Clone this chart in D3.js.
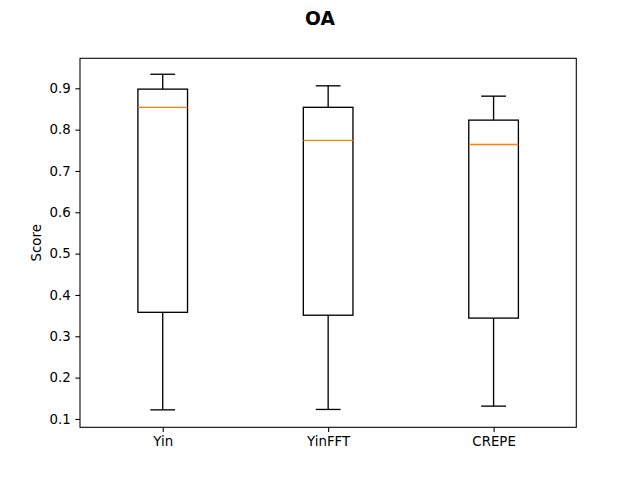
<!DOCTYPE html>
<html lang="en">
<head>
    <meta charset="UTF-8">
    <title>OA</title>
    <script src="https://d3js.org/d3.v7.min.js"></script>
    <style>
        body {
            margin: 0;
            background: white;
        }
        svg {
            display: block;
            font-family: 'DejaVu Sans', sans-serif;
        }
    </style>
</head>
<body>
    <svg width="640" height="480"></svg>
    <script>
        // box stats
        const categories = ['Yin', 'YinFFT', 'CREPE'];
        const whiskerLow = [0.122, 0.123, 0.131];
        const q1 = [0.358, 0.351, 0.344];
        const median = [0.854, 0.774, 0.764];
        const q3 = [0.898, 0.854, 0.823];
        const whiskerHigh = [0.934, 0.906, 0.881];
        const yTicks = [0.1, 0.2, 0.3, 0.4, 0.5, 0.6, 0.7, 0.8, 0.9];

        const margin = { top: 58.3, right: 63.7, bottom: 52.7, left: 80 };
        const width = 640, height = 480;

        const svg = d3.select('svg');

        const x = d3.scaleLinear()
            .domain([0.5, categories.length + 0.5])
            .range([margin.left, width - margin.right]);

        const y = d3.scaleLinear()
            .domain([0.0798, 0.9726])
            .range([height - margin.bottom, margin.top]);

        const boxW = x(1.3) - x(1);
        const capW = x(1.15) - x(1);

        const boxes = svg.append('g')
            .selectAll('g')
            .data(categories.map((c, i) => ({
                c, pos: i + 1,
                lo: whiskerLow[i], q1: q1[i], med: median[i], q3: q3[i], hi: whiskerHigh[i]
            })))
            .enter().append('g')
            .attr('stroke', '#000')
            .attr('stroke-width', 1.33)
            .attr('fill', 'none');

        // whiskers
        boxes.append('line')
            .attr('x1', d => x(d.pos)).attr('x2', d => x(d.pos))
            .attr('y1', d => y(d.q1)).attr('y2', d => y(d.lo));
        boxes.append('line')
            .attr('x1', d => x(d.pos)).attr('x2', d => x(d.pos))
            .attr('y1', d => y(d.q3)).attr('y2', d => y(d.hi));

        // caps
        boxes.append('line')
            .attr('x1', d => x(d.pos) - capW / 2).attr('x2', d => x(d.pos) + capW / 2)
            .attr('y1', d => y(d.lo)).attr('y2', d => y(d.lo));
        boxes.append('line')
            .attr('x1', d => x(d.pos) - capW / 2).attr('x2', d => x(d.pos) + capW / 2)
            .attr('y1', d => y(d.hi)).attr('y2', d => y(d.hi));

        // box
        boxes.append('rect')
            .attr('x', d => x(d.pos) - boxW / 2)
            .attr('width', boxW)
            .attr('y', d => y(d.q3))
            .attr('height', d => y(d.q1) - y(d.q3));

        // median
        boxes.append('line')
            .attr('stroke', '#ff7f0e')
            .attr('x1', d => x(d.pos) - boxW / 2).attr('x2', d => x(d.pos) + boxW / 2)
            .attr('y1', d => y(d.med)).attr('y2', d => y(d.med));

        // axes
        const xAxis = d3.axisBottom(x)
            .tickValues(categories.map((c, i) => i + 1))
            .tickFormat((d, i) => categories[i])
            .tickSize(4.67).tickPadding(4.67);

        const yAxis = d3.axisLeft(y)
            .tickValues(yTicks)
            .tickFormat(d3.format('.1f'))
            .tickSize(4.67).tickPadding(4.67);

        svg.append('g')
            .attr('transform', `translate(0,${height - margin.bottom})`)
            .call(xAxis)
            .call(g => g.select('.domain').remove())
            .call(g => g.selectAll('text').attr('font-size', 13.33).attr('fill', '#000').attr('font-family', 'DejaVu Sans'))
            .call(g => g.selectAll('line').attr('stroke', '#000').attr('stroke-width', 1.07));

        svg.append('g')
            .attr('transform', `translate(${margin.left},0)`)
            .call(yAxis)
            .call(g => g.select('.domain').remove())
            .call(g => g.selectAll('text').attr('font-size', 13.33).attr('fill', '#000').attr('font-family', 'DejaVu Sans'))
            .call(g => g.selectAll('line').attr('stroke', '#000').attr('stroke-width', 1.07));

        // frame
        svg.append('rect')
            .attr('x', margin.left)
            .attr('y', margin.top)
            .attr('width', width - margin.left - margin.right)
            .attr('height', height - margin.top - margin.bottom)
            .attr('fill', 'none')
            .attr('stroke', '#000')
            .attr('stroke-width', 1.07);

        svg.append('text')
            .attr('transform', `translate(40.5,${(margin.top + height - margin.bottom) / 2}) rotate(-90)`)
            .attr('text-anchor', 'middle')
            .attr('font-size', 13.33)
            .text('Score');

        svg.append('text')
            .attr('x', width / 2)
            .attr('y', 25.3)
            .attr('text-anchor', 'middle')
            .attr('font-size', 18.67)
            .attr('font-weight', 'bold')
            .text('OA');
    </script>
</body>
</html>
